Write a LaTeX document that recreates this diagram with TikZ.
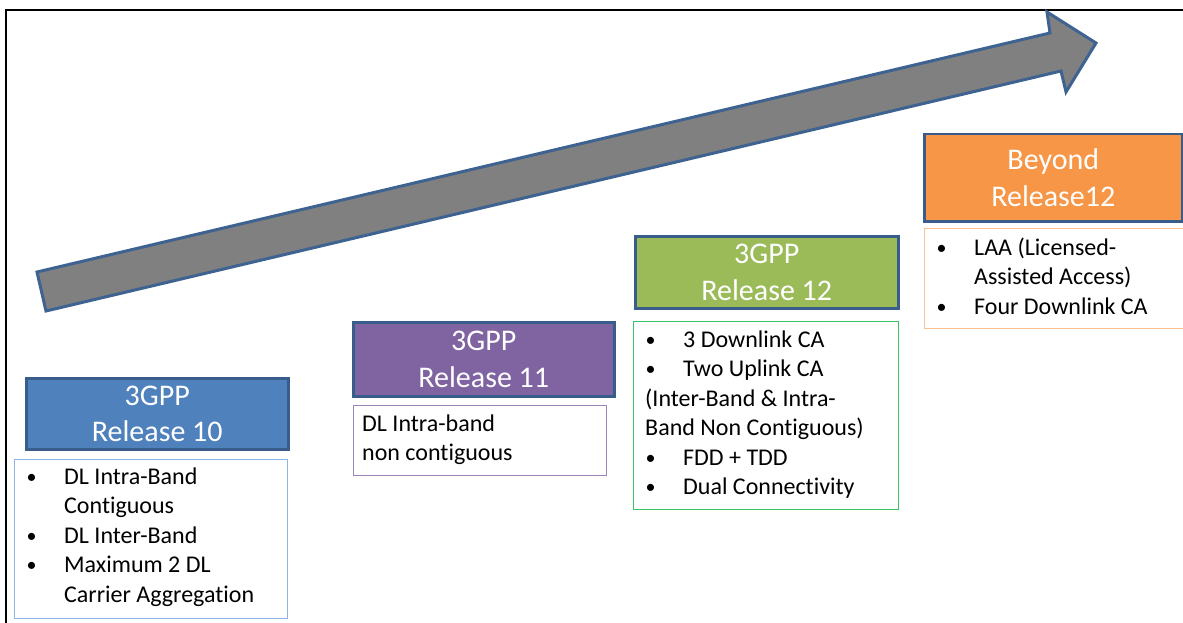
\documentclass[tikz,border=0pt]{standalone}
\usepackage{fontspec}
\setmainfont{Carlito}[Ligatures=NoCommon]
\definecolor{hdrline}{HTML}{385D8A}
\definecolor{arrline}{HTML}{3F6391}
\definecolor{arrfill}{HTML}{808080}
\definecolor{cblue}{HTML}{4F81BD}
\definecolor{cpurple}{HTML}{8064A2}
\definecolor{cgreen}{HTML}{9BBB59}
\definecolor{corange}{HTML}{F79646}
\definecolor{bblue}{HTML}{8EB4E3}
\definecolor{bpurple}{HTML}{9A84B8}
\definecolor{bgreen}{HTML}{3CC365}
\definecolor{borange}{HTML}{FAC090}
\newcommand{\bul}{\makebox[38pt][l]{\hspace*{0.5pt}\raisebox{0.8pt}{\fontsize{20}{20}\selectfont •}}}
\newcommand{\ind}{\hspace*{38pt}}
\begin{document}
\begin{tikzpicture}[x=1pt,y=-1pt,
  hdr/.style={draw=hdrline, line width=2.5pt, inner sep=0pt, anchor=north west,
    text=white, align=center, font=\fontsize{30}{36.5}\selectfont},
  bodybox/.style={line width=1.2pt, anchor=north west, inner sep=0pt},
  bodytext/.style={anchor=north west, inner sep=0pt, align=left, text=black,
    font=\fontsize{24}{29.5}\selectfont}]
\useasboundingbox (0,0) rectangle (1183,623);
% frame
\draw[line width=2.5pt] (6,660) -- (6,10) -- (1220,10);
% arrow
\draw[fill=arrfill, draw=arrline, line width=3pt, line join=miter]
  (37,272) -- (1050,33) -- (1047,12) -- (1096,43) -- (1066,92) -- (1061,71) -- (46,311) -- cycle;
% headers
\node[hdr, fill=cblue, minimum width=262pt, minimum height=71pt] (h10) at (25,377) {3GPP\\Release 10};
\node[hdr, fill=cpurple, minimum width=261pt, minimum height=74pt] (h11) at (352,321) {3GPP\\Release 11};
\node[hdr, fill=cgreen, minimum width=263pt, minimum height=72pt] (h12) at (634,235) {3GPP\\Release 12};
\node[hdr, fill=corange, minimum width=258pt, minimum height=87pt] (hb) at (923,133) {Beyond\\Release12};
% body boxes
\node[bodybox, draw=bblue, minimum width=273pt, minimum height=159pt] (b10) at (13.5,458.5) {};
\node[bodybox, draw=bpurple, minimum width=253pt, minimum height=70pt] (b11) at (352.5,404.5) {};
\node[bodybox, draw=bgreen, minimum width=265pt, minimum height=188pt] (b12) at (632.5,320.5) {};
\node[bodybox, draw=borange, minimum width=290pt, minimum height=100pt] (bb) at (923.5,227.5) {};
% body texts
\node[bodytext] (t10) at (26,464) {\rule{0pt}{20pt}\bul DL Intra-Band\\ \ind Contiguous\\ \bul DL Inter-Band\\ \bul Maximum 2 DL\\ \ind Carrier Aggregation};
\node[bodytext] (t11) at (362,411) {\rule{0pt}{20pt}DL Intra-band\\non contiguous};
\node[bodytext] (t12) at (645,327) {\rule{0pt}{20pt}\bul 3 Downlink CA\\ \bul Two Uplink CA\\(Inter-Band \& Intra-\\Band Non Contiguous)\\ \bul FDD + TDD\\ \bul Dual Connectivity};
\node[bodytext] (tb) at (936,235) {\rule{0pt}{20pt}\bul LAA (Licensed-\\ \ind Assisted Access)\\ \bul Four Downlink CA};
\end{tikzpicture}
\end{document}
